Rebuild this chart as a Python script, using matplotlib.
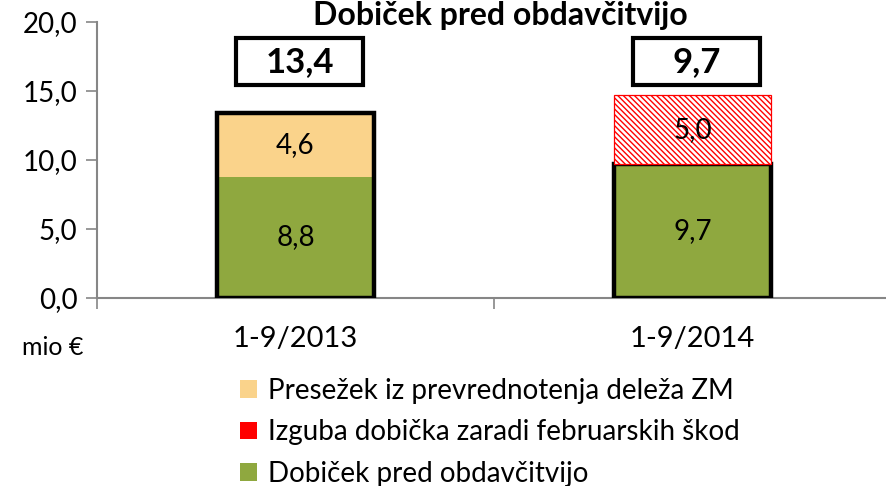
import matplotlib
matplotlib.use("Agg")
import matplotlib.pyplot as plt
from matplotlib.patches import Rectangle, Patch
import numpy as np

categories = ["1-9/2013", "1-9/2014"]
dobicek = [8.8, 9.7]
presezek = [4.6, 0.0]
izguba = [0.0, 5.0]
totals = [13.4, 9.7]
yticks = [0, 5, 10, 15, 20]
ytick_labels = ["0,0", "5,0", "10,0", "15,0", "20,0"]
legend_labels = ["Presežek iz prevrednotenja deleža ZM",
                 "Izguba dobička zaradi februarskih škod",
                 "Dobiček pred obdavčitvijo"]
title = "Dobiček pred obdavčitvijo"
unit = "mio €"

GREEN = "#8FA83F"
ORANGE = "#FAD38B"
RED = "#FF0000"
AXC = "#868686"

plt.rcParams['font.family'] = ['Lato', 'DejaVu Sans']
plt.rcParams['hatch.linewidth'] = 1.0
plt.rcParams['hatch.color'] = RED

W, H = 886, 486
fig = plt.figure(figsize=(W / 100, H / 100), dpi=100)
fig.patch.set_facecolor("white")

def fx(px):
    return px / W

def fy(py):
    return 1 - py / H

ax = fig.add_axes([fx(97), fy(298), fx(891) - fx(97), fy(22) - fy(298)])
ax.set_facecolor("none")
x = np.arange(len(categories))
bw = 0.395

ax.bar(x, dobicek, bw, color=GREEN, linewidth=0, zorder=2)
ax.bar(x, presezek, bw, bottom=dobicek, color=ORANGE, linewidth=0, zorder=2)
# outline around the reported profit
ax.bar(x, totals, bw, facecolor="none", edgecolor="black", linewidth=3.2, zorder=3)
# hatched loss segment (only where present)
idx = [i for i in range(len(categories)) if izguba[i] > 0]
ax.bar(x[idx], [izguba[i] for i in idx], bw, bottom=[dobicek[i] for i in idx],
       facecolor="white", edgecolor=RED, hatch="\\\\\\\\\\\\", linewidth=0.9, zorder=4)

# segment labels
for i in range(len(categories)):
    ax.text(x[i], dobicek[i] / 2, f"{dobicek[i]:.1f}".replace(".", ","),
            ha="center", va="center", fontsize=20, zorder=5)
    if presezek[i] > 0:
        ax.text(x[i], dobicek[i] + presezek[i] / 2, f"{presezek[i]:.1f}".replace(".", ","),
                ha="center", va="center", fontsize=20, zorder=5)
    if izguba[i] > 0:
        ax.text(x[i], dobicek[i] + izguba[i] / 2, f"{izguba[i]:.1f}".replace(".", ","),
                ha="center", va="center", fontsize=20, zorder=5)

# total boxes
box_w = 0.322
for i in range(len(categories)):
    rect = Rectangle((x[i] - box_w / 2 + 0.01, 15.4), box_w, 3.45, facecolor="white",
                     edgecolor="black", linewidth=3.0, clip_on=False, zorder=5)
    ax.add_patch(rect)
    ax.text(x[i] + 0.01, 15.4 + 3.45 / 2, f"{totals[i]:.1f}".replace(".", ","),
            ha="center", va="center", fontsize=25, fontweight="bold", zorder=6)

ax.set_xlim(-0.5, 1.5)
ax.set_ylim(0, 20)
ax.set_yticks(yticks)
ax.set_yticklabels(ytick_labels, fontsize=20)
ax.set_xticks([-0.5, 0.5, 1.5])
ax.set_xticklabels([])
ax.tick_params(axis="y", length=8, width=1.2, color=AXC, pad=6)
ax.tick_params(axis="x", length=8, width=1.2, color=AXC)
for s in ["top", "right"]:
    ax.spines[s].set_visible(False)
for s in ["left", "bottom"]:
    ax.spines[s].set_color(AXC)
    ax.spines[s].set_linewidth(1.5)

for i, c in enumerate(categories):
    ax.text(x[i], -3.0, c, ha="center", va="center", fontsize=21)

fig.text(fx(53), fy(347), unit, ha="center", va="center", fontsize=18)
fig.text(fx(500), fy(16), title, ha="center", va="center", fontsize=23, fontweight="bold")

handles = [Patch(facecolor=ORANGE, edgecolor="none"),
           Patch(facecolor=RED, edgecolor="none"),
           Patch(facecolor=GREEN, edgecolor="none")]
fig.legend(handles, legend_labels, loc="upper left", bbox_to_anchor=(fx(240), fy(378)),
           frameon=False, fontsize=20, handlelength=0.6, handleheight=0.6,
           handletextpad=0.4, labelspacing=0.55, borderaxespad=0, borderpad=0)

fig.savefig("out.png", dpi=100)
